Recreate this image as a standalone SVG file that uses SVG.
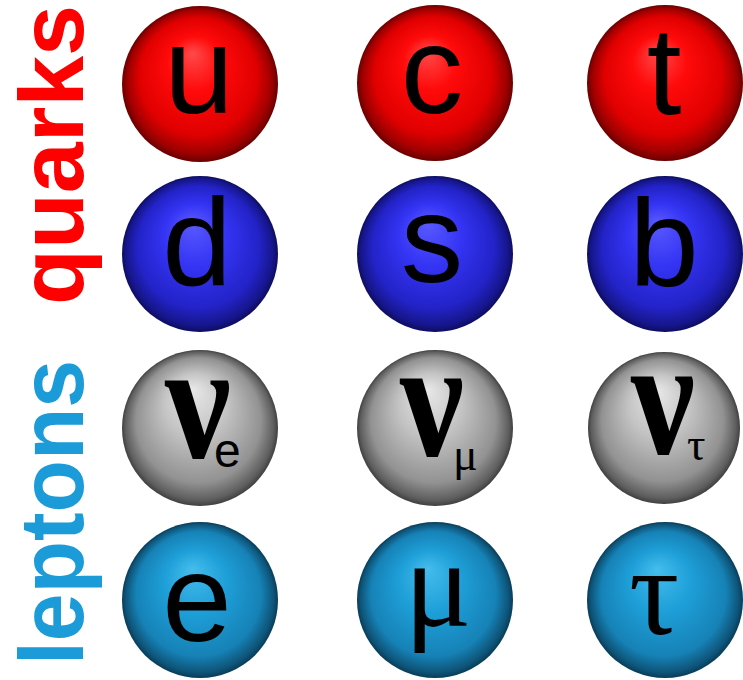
<svg xmlns="http://www.w3.org/2000/svg" width="743" height="680" viewBox="0 0 743 680">
  <style>
    .sans { font-family: "Liberation Sans", Arial, sans-serif; }
    .serif { font-family: "Liberation Serif", "Times New Roman", serif; }
    .lbl { font-size: 125px; fill: #000; text-anchor: middle; }
    .nu { font-size: 168px; font-weight: bold; fill: #000; }
    .grp { font-size: 90px; font-weight: bold; }
  </style>
  <defs>
    <radialGradient id="gRed" cx="0.5" cy="0.5" r="0.5" fx="0.45" fy="0.3">
      <stop offset="0" stop-color="#ff4a4a"/>
      <stop offset="0.35" stop-color="#ff0a0a"/>
      <stop offset="0.75" stop-color="#e00000"/>
      <stop offset="0.92" stop-color="#a00000"/>
      <stop offset="1" stop-color="#6a0000"/>
    </radialGradient>
    <radialGradient id="gBlue" cx="0.5" cy="0.5" r="0.5" fx="0.45" fy="0.3">
      <stop offset="0" stop-color="#5a5aff"/>
      <stop offset="0.4" stop-color="#3434f4"/>
      <stop offset="0.78" stop-color="#2323c8"/>
      <stop offset="0.94" stop-color="#16168c"/>
      <stop offset="1" stop-color="#0d0d60"/>
    </radialGradient>
    <radialGradient id="gGrey" cx="0.5" cy="0.5" r="0.5" fx="0.45" fy="0.25">
      <stop offset="0" stop-color="#e8e8e8"/>
      <stop offset="0.4" stop-color="#c4c4c4"/>
      <stop offset="0.8" stop-color="#929292"/>
      <stop offset="0.95" stop-color="#5e5e5e"/>
      <stop offset="1" stop-color="#404040"/>
    </radialGradient>
    <radialGradient id="gCyan" cx="0.5" cy="0.5" r="0.5" fx="0.45" fy="0.3">
      <stop offset="0" stop-color="#45bdec"/>
      <stop offset="0.4" stop-color="#1e9fd8"/>
      <stop offset="0.8" stop-color="#1682b6"/>
      <stop offset="0.95" stop-color="#0e5478"/>
      <stop offset="1" stop-color="#083c58"/>
    </radialGradient>
  </defs>

  <rect width="743" height="680" fill="#ffffff"/>

  <g id="label-quarks">
    <text class="sans grp" fill="#ff0000" transform="translate(83,305) rotate(-90)" textLength="300" lengthAdjust="spacingAndGlyphs">quarks</text>
  </g>
  <g id="label-leptons">
    <text class="sans grp" fill="#1b9bd7" transform="translate(83,665) rotate(-90)" textLength="305" lengthAdjust="spacingAndGlyphs">leptons</text>
  </g>

  <g id="u"><circle cx="200" cy="84" r="78" fill="url(#gRed)"/><text class="sans lbl" x="199" y="113">u</text></g>
  <g id="c"><circle cx="435" cy="83" r="78" fill="url(#gRed)"/><text class="sans lbl" x="432" y="113">c</text></g>
  <g id="t"><circle cx="665" cy="83" r="78" fill="url(#gRed)"/><text class="sans lbl" x="664" y="114">t</text></g>

  <g id="d"><circle cx="200" cy="254" r="78" fill="url(#gBlue)"/><text class="sans lbl" x="197" y="285">d</text></g>
  <g id="s"><circle cx="435" cy="254" r="78" fill="url(#gBlue)"/><text class="sans lbl" x="432" y="282">s</text></g>
  <g id="b"><circle cx="665" cy="254" r="78" fill="url(#gBlue)"/><text class="sans lbl" x="664" y="286">b</text></g>

  <g id="nu-e"><circle cx="200" cy="428" r="78" fill="url(#gGrey)"/>
    <text class="serif nu" x="165" y="457" textLength="66" lengthAdjust="spacingAndGlyphs">ν</text>
    <text class="sans" x="214" y="467" font-size="48" fill="#000">e</text></g>
  <g id="nu-mu"><circle cx="435" cy="428" r="78" fill="url(#gGrey)"/>
    <text class="serif nu" x="400" y="455" textLength="64" lengthAdjust="spacingAndGlyphs">ν</text>
    <text class="serif" x="453" y="470" font-size="46" fill="#000">μ</text></g>
  <g id="nu-tau"><circle cx="664" cy="428" r="76" fill="url(#gGrey)"/>
    <text class="serif nu" x="631" y="453" textLength="64" lengthAdjust="spacingAndGlyphs">ν</text>
    <text class="serif" x="687" y="460" font-size="46" fill="#000">τ</text></g>

  <g id="e"><circle cx="200" cy="600" r="78" fill="url(#gCyan)"/><text class="sans lbl" x="197" y="641">e</text></g>
  <g id="mu"><circle cx="435" cy="600" r="78" fill="url(#gCyan)"/><text class="serif lbl" x="438" y="626" font-size="140">μ</text></g>
  <g id="tau"><circle cx="665" cy="600" r="78" fill="url(#gCyan)"/><text class="serif lbl" x="654" y="634" font-size="140">τ</text></g>
</svg>
